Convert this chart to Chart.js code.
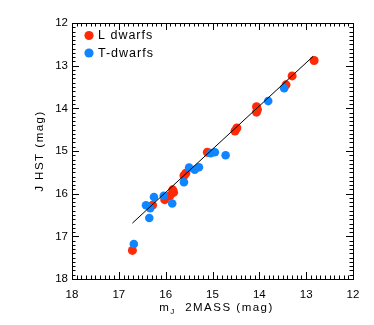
<!DOCTYPE html>
<html>
<head>
<meta charset="utf-8">
<script src="https://cdn.jsdelivr.net/npm/chart.js@4/dist/chart.umd.min.js"></script>
<style>
  html, body { margin: 0; padding: 0; background: #fff; }
  #c { display: block; }
</style>
</head>
<body>
<canvas id="c" width="374" height="325"></canvas>
<script>
// ---- data ----
const lDwarfX = [12.83, 13.30, 13.43, 14.06, 14.04, 14.06, 14.52, 14.48, 15.11, 15.57, 15.61, 15.85, 15.83, 15.91, 16.02, 16.28, 16.71];
const lDwarfY = [12.88, 13.24, 13.45, 13.96, 14.03, 14.09, 14.53, 14.46, 15.03, 15.52, 15.58, 15.91, 15.97, 16.05, 16.14, 16.27, 17.33];
const tDwarfX = [13.47, 13.81, 15.04, 14.95, 14.72, 15.50, 15.38, 15.29, 15.61, 16.04, 15.86, 16.25, 16.42, 16.33, 16.35, 16.68];
const tDwarfY = [13.53, 13.83, 15.05, 15.03, 15.10, 15.39, 15.44, 15.38, 15.73, 16.05, 16.23, 16.08, 16.27, 16.34, 16.57, 17.18];
const fitX = [16.71, 12.85];
const fitY = [16.69, 12.78];
const xTickValues = [18, 17, 16, 15, 14, 13, 12];
const yTickValues = [12, 13, 14, 15, 16, 17, 18];
const seriesLabels = ['L dwarfs', 'T-dwarfs'];
const xTitleMain = 'm';
const xTitleSub = 'J';
const xTitleRest = '  2MASS (mag)';
const yTitle = 'J HST (mag)';

const RED = '#ff2a06';
const BLUE = '#0f86ff';
const FONT = '"Liberation Sans", Arial, sans-serif';

const toPts = (xs, ys) => xs.map((x, i) => ({ x: x, y: ys[i] }));

const framePlugin = {
  id: 'frame',
  afterDraw(chart) {
    const ctx = chart.ctx;
    const a = chart.chartArea;
    const xs = chart.scales.x, ys = chart.scales.y;
    ctx.save();
    ctx.strokeStyle = '#000';
    ctx.lineWidth = 1;
    ctx.strokeRect(Math.round(a.left) + 0.5, Math.round(a.top) + 0.5,
                   Math.round(a.right - a.left), Math.round(a.bottom - a.top));
    ctx.beginPath();
    for (let i = 0; i <= 60; i++) {
      const v = 12 + i * 0.1;
      const len = (i % 10 === 0) ? 7 : 3.5;
      const px = Math.round(xs.getPixelForValue(v)) + 0.5;
      ctx.moveTo(px, a.bottom); ctx.lineTo(px, a.bottom - len);
      ctx.moveTo(px, a.top); ctx.lineTo(px, a.top + len);
      const py = Math.round(ys.getPixelForValue(v)) + 0.5;
      ctx.moveTo(a.left, py); ctx.lineTo(a.left + len, py);
      ctx.moveTo(a.right, py); ctx.lineTo(a.right - len, py);
    }
    ctx.stroke();

    // legend
    const ds = chart.data.datasets;
    const legendItems = [ds[2], ds[1]];
    ctx.fillStyle = '#000';
    legendItems.forEach((d, i) => {
      const cy = 35.5 + i * 17.5;
      ctx.beginPath();
      ctx.fillStyle = d.backgroundColor;
      ctx.arc(89, cy, 4.6, 0, Math.PI * 2);
      ctx.fill();
      ctx.fillStyle = '#000';
      ctx.font = '12.5px ' + FONT;
      ctx.letterSpacing = '1px';
      ctx.textBaseline = 'middle';
      ctx.textAlign = 'left';
      ctx.fillText(d.label, 98, cy + 0.5);
    });

    // x title
    ctx.letterSpacing = '1.5px';
    ctx.textBaseline = 'alphabetic';
    ctx.textAlign = 'left';
    ctx.font = '11.5px ' + FONT;
    const wM = ctx.measureText(xTitleMain).width;
    const wR = ctx.measureText(xTitleRest).width;
    ctx.font = '8px ' + FONT;
    const wS = ctx.measureText(xTitleSub).width;
    const total = wM + wS + wR;
    const cx = (a.left + a.right) / 2 + 4;
    let x0 = cx - total / 2;
    const base = 311;
    ctx.font = '11.5px ' + FONT;
    ctx.fillText(xTitleMain, x0, base);
    ctx.font = '8px ' + FONT;
    ctx.fillText(xTitleSub, x0 + wM, base + 2.5);
    ctx.font = '11.5px ' + FONT;
    ctx.fillText(xTitleRest, x0 + wM + wS, base);

    // y title
    ctx.save();
    ctx.translate(40, (a.top + a.bottom) / 2);
    ctx.rotate(-Math.PI / 2);
    ctx.textAlign = 'center';
    ctx.textBaseline = 'middle';
    ctx.font = '11.5px ' + FONT;
    ctx.fillText(yTitle, 0, 0);
    ctx.restore();
    ctx.restore();
  }
};

new Chart(document.getElementById('c').getContext('2d'), {
  type: 'scatter',
  data: {
    datasets: [
      { label: 'fit', type: 'line', data: toPts(fitX, fitY), borderColor: '#000', borderWidth: 1,
        pointRadius: 0, fill: false, order: 0 },
      { label: seriesLabels[1], data: toPts(tDwarfX, tDwarfY), backgroundColor: BLUE,
        borderWidth: 0, pointRadius: 4.3, order: 1 },
      { label: seriesLabels[0], data: toPts(lDwarfX, lDwarfY), backgroundColor: RED,
        borderWidth: 0, pointRadius: 4.5, order: 2 }
    ]
  },
  options: {
    responsive: false,
    animation: false,
    devicePixelRatio: 1,
    layout: { padding: { left: 0, right: 21, top: 23, bottom: 0 } },
    plugins: { legend: { display: false }, tooltip: { enabled: false } },
    scales: {
      x: {
        type: 'linear', min: 12, max: 18, reverse: true,
        grid: { display: false, drawTicks: false }, border: { display: false },
        afterBuildTicks(s) { s.ticks = xTickValues.map(v => ({ value: v })); },
        afterFit(s) { s.height = 46; },
        ticks: { autoSkip: false, maxRotation: 0, padding: 9, color: '#000',
                 font: { family: FONT, size: 11.5 } }
      },
      y: {
        type: 'linear', min: 12, max: 18, reverse: true,
        grid: { display: false, drawTicks: false }, border: { display: false },
        afterBuildTicks(s) { s.ticks = yTickValues.map(v => ({ value: v })); },
        afterFit(s) { s.width = 72; },
        ticks: { autoSkip: false, padding: 4, color: '#000',
                 font: { family: FONT, size: 11.5 } }
      }
    }
  },
  plugins: [framePlugin]
});
</script>
</body>
</html>
